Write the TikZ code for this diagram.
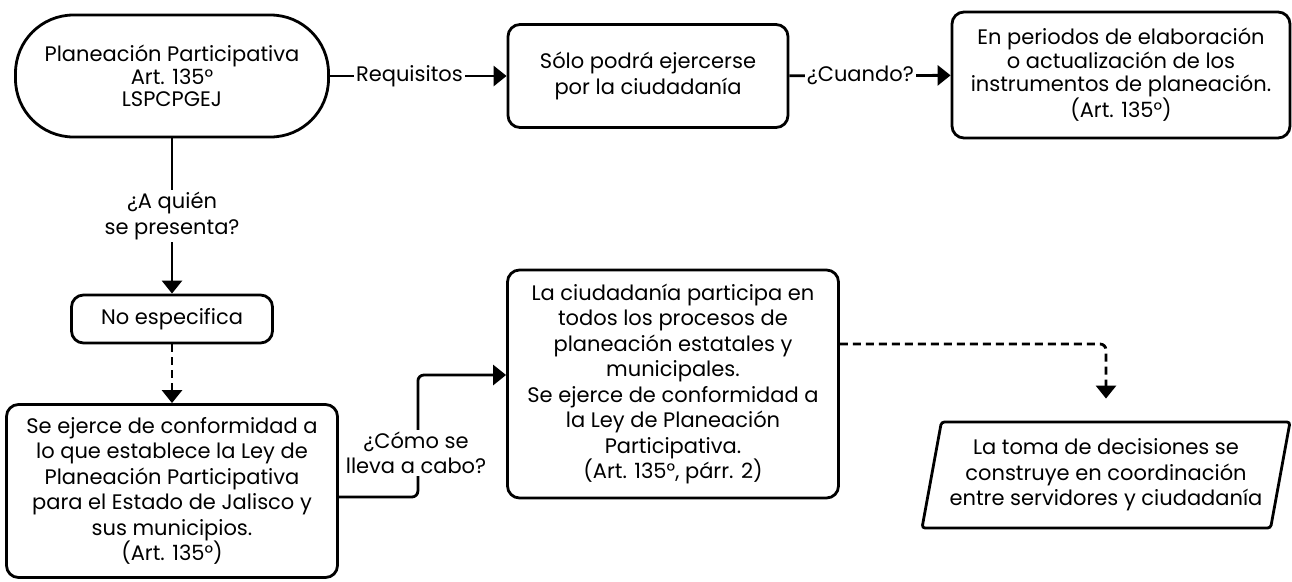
\documentclass[tikz,border=0pt]{standalone}
\usepackage{fontspec}
\setmainfont{Poppins}
\usetikzlibrary{arrows.meta,shapes.geometric}

\tikzset{
	caja/.style={draw, line width=2.8pt, rounded corners=12pt, align=center, inner sep=0pt},
	flecha/.style={line width=2.8pt, -{Triangle[width=20pt,length=13pt]}},
	punteada/.style={flecha, dash pattern=on 8pt off 5pt},
	etiqueta/.style={fill=white, align=center, inner sep=2pt}
}

\begin{document}
\begin{tikzpicture}[x=1pt,y=-1pt,font=\fontsize{21}{25.5}\selectfont]
		%\draw [help lines] (0,0) grid (1292,581);
		\useasboundingbox (0,0) rectangle (1292,581);
		
		\node [caja, rounded corners=58pt, minimum width=313pt, minimum height=122pt, font=\fontsize{21}{22.5}\selectfont] (plan) at (172,76) {Planeación Participativa\\Art. 135°\\LSPCPGEJ};
		\node [caja, minimum width=280pt, minimum height=103pt] (solo) at (648,76) {Sólo podrá ejercerse\\por la ciudadanía};
		\node [caja, minimum width=338pt, minimum height=126pt, font=\fontsize{21}{23.5}\selectfont] (periodo) at (1121,75) {En periodos de elaboración\\o actualización de los\\instrumentos de planeación.\\(Art. 135°)};
		
		\node [caja, minimum width=201pt, minimum height=48pt] (noesp) at (172,319) {No especifica};
		\node [caja, minimum width=331pt, minimum height=173pt] (ejerce) at (172,491) {Se ejerce de conformidad a\\lo que establece la Ley de\\Planeación Participativa\\para el Estado de Jalisco y\\sus municipios.\\(Art. 135°)};
		\node [caja, minimum width=331pt, minimum height=228pt] (ciud) at (673,384) {La ciudadanía participa en\\todos los procesos de\\planeación estatales y\\municipales.\\Se ejerce de conformidad a\\la Ley de Planeación\\Participativa.\\(Art. 135°, párr. 2)};
		\node [draw, line width=2.8pt, trapezium, trapezium left angle=75, trapezium right angle=105, trapezium stretches body, minimum width=368pt, minimum height=106pt, align=center, inner sep=0pt, rounded corners=3pt] (toma) at (1106,475) {La toma de decisiones se\\construye en coordinación\\entre servidores y ciudadanía};
		
		\draw [flecha] (plan) -- node [etiqueta, pos=0.45] {Requisitos} (solo);
		\draw [flecha] (solo) -- node [etiqueta, pos=0.44] {¿Cuando?} (periodo);
		\draw [flecha] (plan) -- node [etiqueta] {¿A quién\\se presenta?} (noesp);
		\draw [punteada] (noesp) -- (ejerce);
		\draw [flecha, rounded corners=6pt] ([yshift=-6pt]ejerce.east) -- ++(79,0) |- ([yshift=9pt]ciud.west);
		\node [etiqueta] (como) at (416,453) {¿Cómo se\\lleva a cabo?};
		\draw [punteada, rounded corners=6pt, shorten >=22pt] ([yshift=40pt]ciud.east) -| (toma.north);
	\end{tikzpicture}
\end{document}
